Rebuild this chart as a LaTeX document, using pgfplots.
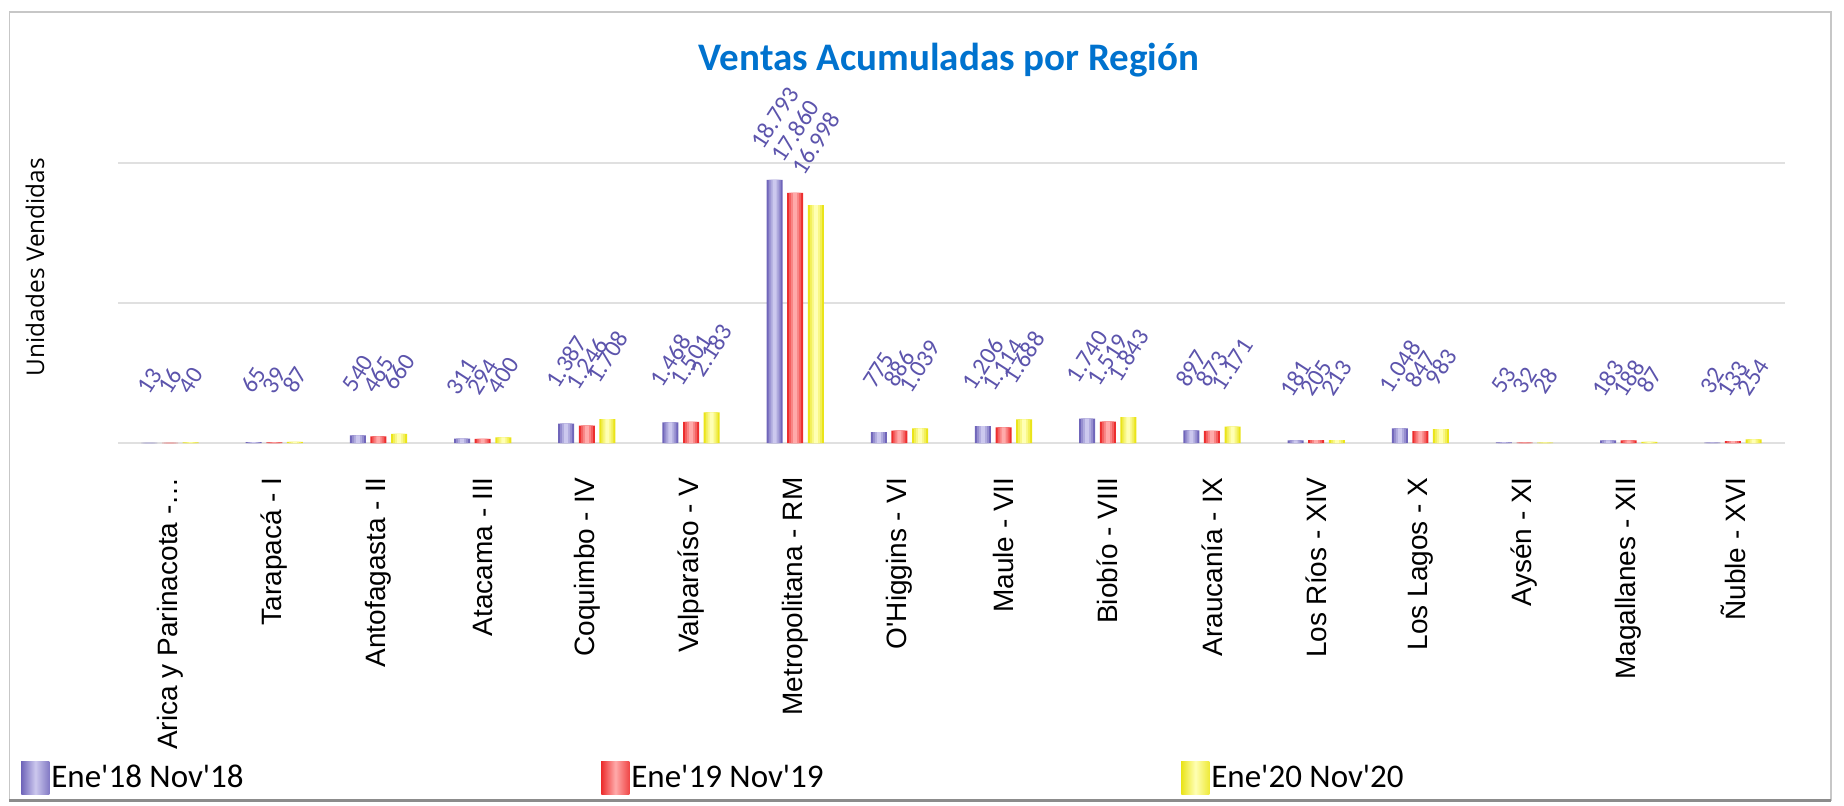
\documentclass[border=0pt]{standalone}
\usepackage{fontspec}
\setmainfont{Carlito}
\newfontfamily\arialf{Liberation Sans}
\newfontfamily\opensans{Open Sans}
\usepackage{pgfplots}
\usepackage{pgfplotstable}
\pgfplotsset{compat=1.18}
\definecolor{purD}{RGB}{112,102,186}
\definecolor{purL}{RGB}{204,200,238}
\definecolor{redD}{RGB}{236,46,46}
\definecolor{redL}{RGB}{255,170,170}
\definecolor{yelD}{RGB}{234,228,26}
\definecolor{yelL}{RGB}{255,255,180}
\definecolor{labcol}{RGB}{92,84,172}
\definecolor{titcol}{RGB}{0,114,206}
\pgfplotstableread{
x y
0 13
1 65
2 540
3 311
4 1387
5 1468
6 18793
7 775
8 1206
9 1740
10 897
11 181
12 1048
13 53
14 183
15 32
}\tabA
\pgfplotstableread{
x y
0 16
1 39
2 465
3 294
4 1246
5 1501
6 17860
7 886
8 1114
9 1519
10 873
11 205
12 847
13 32
14 188
15 133
}\tabB
\pgfplotstableread{
x y
0 40
1 87
2 660
3 400
4 1708
5 2183
6 16998
7 1039
8 1688
9 1843
10 1171
11 213
12 983
13 28
14 87
15 254
}\tabC
\newcommand\shadedbars[4]{%
  \addplot[fill=#3, draw=none, bar shift=#2, bar width=8pt, nodes near coords,
    legend image code/.code={\shade[left color=#3, right color=#3!80!#4, middle color=#4] (0pt,-8.25pt) rectangle (14pt,8.25pt);}] table {#1};
  \addplot[forget plot, fill=#3!60!#4, draw=none, bar shift=#2, bar width=6pt] table {#1};
  \addplot[forget plot, fill=#3!30!#4, draw=none, bar shift=#2, bar width=4pt] table {#1};
  \addplot[forget plot, fill=#4, draw=none, bar shift=#2, bar width=2pt] table {#1};
}
\begin{document}
\begin{tikzpicture}
\draw[black!22, line width=0.8pt] (4.7pt,2.5pt) rectangle (915.5pt,396.6pt);
\draw[black!45, line width=1.5pt] (4.7pt,2.2pt) -- (915.5pt,2.2pt);
\node[font=\bfseries\fontsize{19.5}{22}\selectfont, text=titcol] at (474.5pt,372.5pt) {Ventas Acumuladas por Región};
\node[font=\opensans\fontsize{12.2}{14}\selectfont, rotate=90] at (17.5pt,269pt) {Unidades Vendidas};
\begin{axis}[
  at={(59pt,181pt)}, anchor=south west,
  scale only axis, width=833.5pt, height=140pt,
  xmin=-0.5, xmax=15.5, ymin=0, ymax=20000,
  clip=false,
  scaled y ticks=false,
  axis line style={draw=none},
  major tick length=0pt,
  ytick={0,10000,20000}, yticklabels={},
  ymajorgrids, grid style={draw=black!12, line width=1.2pt},
  xtick={0,...,15},
  xticklabels={{Arica y Parinacota -\textellipsis}, {Tarapacá - I}, {Antofagasta - II}, {Atacama - III}, {Coquimbo - IV}, {Valparaíso - V}, {Metropolitana - RM}, {O\textquotesingle Higgins - VI}, {Maule - VII}, {Biobío - VIII}, {Araucanía - IX}, {Los Ríos - XIV}, {Los Lagos - X}, {Aysén - XI}, {Magallanes - XII}, {Ñuble - XVI}},
  xticklabel style={rotate=90, anchor=east, font=\arialf\fontsize{14}{16}\selectfont, inner sep=0pt},
  xticklabel shift=17pt,
  ybar,
  /pgf/number format/.cd, fixed, precision=0, 1000 sep={.}, assume math mode=true, /pgfplots/.cd,
  nodes near coords style={yshift=31pt, rotate=57, anchor=center, font=\fontsize{12.2}{13}\selectfont, text=labcol, inner sep=0pt},
  legend columns=3,
  legend style={at={(-0.0582,-1.196)}, anchor=west, draw=none, fill=none, inner sep=0pt, font=\fontsize{16.5}{18}\selectfont, nodes={inner sep=1pt}},
  legend cell align=left,
]
\shadedbars{\tabA}{-10.3pt}{purD}{purL}
\shadedbars{\tabB}{0pt}{redD}{redL}
\shadedbars{\tabC}{10.3pt}{yelD}{yelL}
\legend{\makebox[274pt][l]{Ene\textquotesingle18 Nov\textquotesingle18}, \makebox[274pt][l]{Ene\textquotesingle19 Nov\textquotesingle19}, \makebox[120pt][l]{Ene\textquotesingle20 Nov\textquotesingle20}}
\end{axis}
\pgfresetboundingbox
\useasboundingbox (0,0) rectangle (922pt,402.5pt);
\end{tikzpicture}
\end{document}
